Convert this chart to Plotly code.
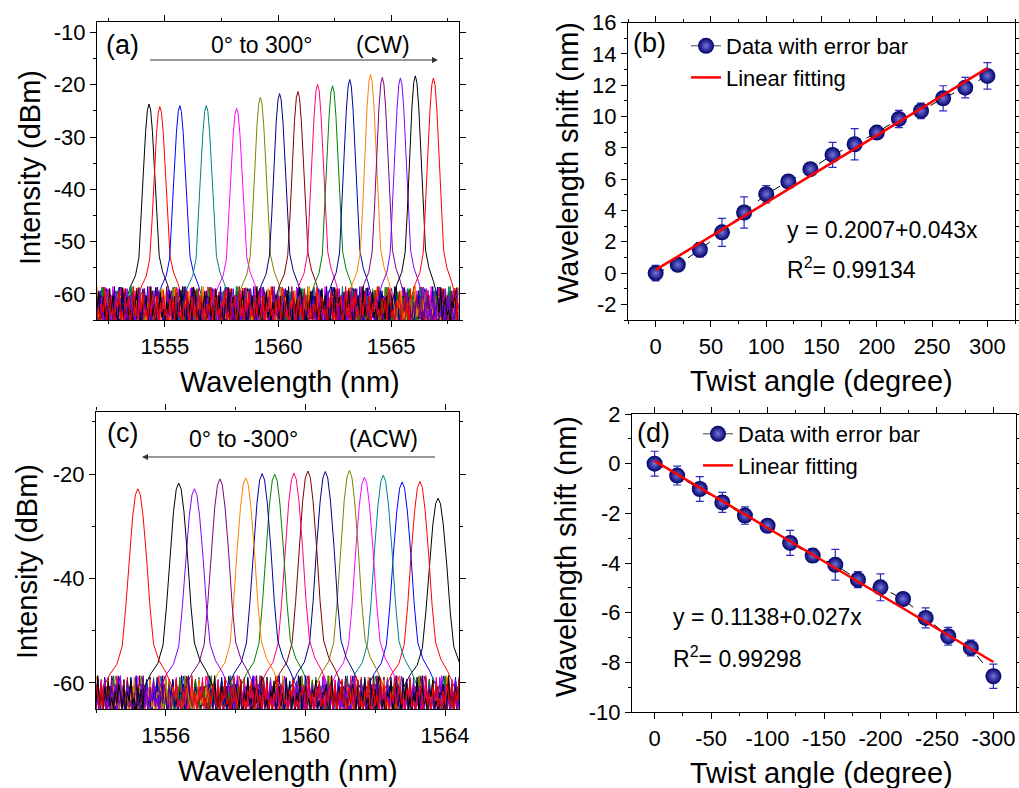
import numpy as np
import plotly.graph_objects as go

FONT = "Liberation Sans, Arial, sans-serif"

# ---------------- data ----------------
# (a) clockwise twist spectra: peak wavelength (nm) and peak power (dBm), 0..300 deg
cw_angles = [0, 20, 40, 60, 80, 100, 120, 140, 160, 180, 200, 220, 240, 260, 280, 300]
cw_peak_wl = [1554.30, 1554.78, 1555.66, 1556.83, 1558.17, 1559.22, 1560.07, 1560.88,
              1561.75, 1562.41, 1563.17, 1564.09, 1564.61, 1565.41, 1566.07, 1566.87]
cw_peak_dbm = [-23.7, -24.2, -24.0, -24.0, -24.5, -22.4, -21.7, -21.3,
               -19.9, -20.2, -19.0, -18.0, -18.6, -18.7, -18.3, -18.7]

# (c) anticlockwise twist spectra, 0..-300 deg
acw_angles = [0, -20, -40, -60, -80, -100, -120, -140, -160, -180, -200, -220, -240, -260, -280, -300]
acw_peak_wl = [1563.80, 1563.28, 1562.77, 1562.23, 1561.69, 1561.26, 1560.57, 1560.07,
               1559.67, 1559.12, 1558.76, 1558.29, 1557.55, 1556.82, 1556.37, 1555.20]
acw_peak_dbm = [-24.6, -21.4, -21.5, -20.2, -20.6, -19.3, -19.5, -19.4,
                -19.8, -20.0, -19.9, -20.7, -20.9, -22.8, -21.7, -22.8]

curve_colors = ["#000000", "#ff0000", "#0000ff", "#008080", "#ff00ff", "#808000",
                "#000080", "#800000", "#ff0080", "#008000", "#0000a0", "#ff8000",
                "#800080", "#8000ff", "#000000", "#ff0000"]

# peak line shape: offset from centre (nm) and fraction of height above floor
profile_offset = [-1.0, -0.8, -0.6, -0.45, -0.35, -0.25, -0.15, -0.07, 0.0,
                  0.07, 0.15, 0.25, 0.35, 0.45, 0.6, 0.8, 1.0]
profile_frac = [0.0, 0.07, 0.12, 0.21, 0.40, 0.65, 0.86, 0.97, 1.0,
                0.97, 0.86, 0.65, 0.40, 0.22, 0.14, 0.08, 0.0]
floor_dbm = -61.0
noise_dbm = [-62.1, -64.8, -60.4, -65.9, -61.7, -63.5, -59.3, -64.2, -62.9, -66.1, -60.9,
             -63.8, -61.2, -65.4, -58.7, -60.1, -64.6, -63.1, -66.3, -61.5, -62.8, -59.6,
             -65.1, -63.9, -60.7, -64.4, -62.2, -65.7, -59.0, -63.3, -60.3, -64.9, -62.6,
             -66.0, -61.9, -63.6, -58.9, -65.2, -62.4, -60.6, -64.1, -63.0, -65.8, -61.3,
             -62.7, -59.4, -64.7, -63.4, -66.2, -61.8, -62.3, -60.5, -65.5, -63.7, -58.6,
             -64.3, -62.0, -65.6, -60.8, -63.2, -59.7, -64.5, -62.9, -65.0, -61.6, -63.9, -60.2]

# (b) wavelength shift vs twist angle (CW)
twist_cw = [0, 20, 40, 60, 80, 100, 120, 140, 160, 180, 200, 220, 240, 260, 280, 300]
shift_cw = [0.0, 0.53, 1.49, 2.6, 3.87, 5.04, 5.85, 6.64, 7.55, 8.23, 8.98, 9.85, 10.36, 11.17, 11.85, 12.6]
err_cw = [0.5, 0.25, 0.45, 0.9, 1.0, 0.55, 0.2, 0.3, 0.8, 1.0, 0.25, 0.55, 0.5, 0.8, 0.65, 0.85]
fit_cw = (0.2007, 0.043)

# (d) wavelength shift vs twist angle (ACW)
twist_acw = [0, -20, -40, -60, -80, -100, -120, -140, -160, -180, -200, -220, -240, -260, -280, -300]
shift_acw = [0.0, -0.48, -1.02, -1.56, -2.09, -2.5, -3.19, -3.7, -4.07, -4.67, -4.98, -5.45,
             -6.21, -6.95, -7.42, -8.56]
err_acw = [0.5, 0.38, 0.5, 0.4, 0.35, 0.25, 0.5, 0.28, 0.62, 0.32, 0.54, 0.15, 0.4, 0.36, 0.32, 0.49]
fit_acw = (0.1138, 0.027)

# tick labels (hyphen minus as in the original)
ticks_a_y = [-60, -50, -40, -30, -20, -10]
ticks_c_y = [-60, -40, -20]
ticks_b_y = [-2, 0, 2, 4, 6, 8, 10, 12, 14, 16]
ticks_d_y = [-10, -8, -6, -4, -2, 0, 2]
ticks_d_x = [0, -50, -100, -150, -200, -250, -300]

# ---------------- figure ----------------
W, H = 1019, 788
fig = go.Figure()


def spectrum(center, peak, lo, hi, step, shift):
    grid = np.arange(lo, hi + 1e-9, step)
    n = len(noise_dbm)
    xs, ys = [], []
    for i, g in enumerate(grid):
        if g < center + profile_offset[0]:
            xs.append(g)
            ys.append(noise_dbm[(i + shift) % n])
    for o, f in zip(profile_offset, profile_frac):
        xs.append(center + o)
        ys.append(floor_dbm + f * (peak - floor_dbm))
    for i, g in enumerate(grid):
        if g > center + profile_offset[-1]:
            xs.append(g)
            ys.append(noise_dbm[(i + shift) % n])
    return xs, ys


for k, (c, p) in enumerate(zip(cw_peak_wl, cw_peak_dbm)):
    xs, ys = spectrum(c, p, 1552.0, 1568.0, 0.07, k * 11)
    fig.add_trace(go.Scatter(x=xs, y=ys, mode="lines", line=dict(color=curve_colors[k], width=1),
                             showlegend=False, xaxis="x", yaxis="y", hoverinfo="skip"))

for k, (c, p) in enumerate(zip(acw_peak_wl, acw_peak_dbm)):
    xs, ys = spectrum(c, p, 1554.0, 1564.4, 0.05, k * 13 + 5)
    fig.add_trace(go.Scatter(x=xs, y=ys, mode="lines", line=dict(color=curve_colors[k], width=1),
                             showlegend=False, xaxis="x3", yaxis="y3", hoverinfo="skip"))

BALL = dict(size=16, color="#00006a", gradient=dict(type="radial", color="#7474dc"),
            line=dict(width=0))
ERRC = "#2a2ac0"


def shift_panel(tw, sh, er, fit, xa, ya, legend):
    fig.add_trace(go.Scatter(x=tw, y=sh, mode="lines+markers",
                             line=dict(color="black", width=1, dash="dash"),
                             marker=BALL,
                             error_y=dict(type="data", array=er, visible=True, color=ERRC,
                                          thickness=1.2, width=4),
                             showlegend=False, xaxis=xa, yaxis=ya))
    fx = [tw[0], tw[-1]]
    fy = [fit[0] + fit[1] * v for v in fx]
    # legend entries
    fig.add_trace(go.Scatter(x=[None], y=[None], mode="lines+markers",
                             line=dict(color="#444444", width=1), marker=BALL,
                             name="Data with error bar", legend=legend, xaxis=xa, yaxis=ya))
    fig.add_trace(go.Scatter(x=fx, y=fy, mode="lines", line=dict(color="#ff0000", width=2.5),
                             name="Linear fitting", legend=legend, xaxis=xa, yaxis=ya))


shift_panel(twist_cw, shift_cw, err_cw, fit_cw, "x2", "y2", "legend")
shift_panel(twist_acw, shift_acw, err_acw, fit_acw, "x4", "y4", "legend2")


def px(x):
    return x / W


def py(y):
    return 1 - y / H


axis_common = dict(showline=True, linecolor="black", linewidth=1.3, mirror="allticks",
                   ticks="outside", ticklen=6, tickwidth=1.2, tickcolor="black",
                   showgrid=False, zeroline=False, automargin=False,
                   tickfont=dict(family=FONT, size=22, color="black"),
                   minor=dict(ticks="outside", ticklen=3, tickwidth=1, tickcolor="black",
                              showgrid=False))


def tv(vals):
    return dict(tickmode="array", tickvals=vals, ticktext=[str(v) for v in vals])


fig.update_layout(
    width=W, height=H, margin=dict(l=0, r=0, t=0, b=0, autoexpand=False),
    paper_bgcolor="white", plot_bgcolor="white",
    font=dict(family=FONT, color="black"),
    xaxis=dict(axis_common, domain=[px(97), px(459)], anchor="y", range=[1552, 1568],
               tick0=1555, dtick=5, minor=dict(axis_common["minor"], tick0=1552.5, dtick=2.5)),
    yaxis=dict(axis_common, **tv(ticks_a_y), domain=[py(320), py(22)], anchor="x", range=[-65, -8],
               minor=dict(axis_common["minor"], tickmode="linear", tick0=-65, dtick=5)),
    xaxis2=dict(axis_common, domain=[px(628), px(1015)], anchor="y2", range=[-25, 325],
                tick0=0, dtick=50, minor=dict(axis_common["minor"], tick0=-25, dtick=25)),
    yaxis2=dict(axis_common, **tv(ticks_b_y), domain=[py(320), py(22.7)], anchor="x2", range=[-3, 16],
                minor=dict(axis_common["minor"], tickmode="linear", tick0=-3, dtick=1)),
    xaxis3=dict(axis_common, domain=[px(96), px(459)], anchor="y3", range=[1554, 1564.4],
                tick0=1556, dtick=4, minor=dict(axis_common["minor"], tick0=1554, dtick=2)),
    yaxis3=dict(axis_common, **tv(ticks_c_y), domain=[py(709), py(411.5)], anchor="x3", range=[-65, -8],
                minor=dict(axis_common["minor"], tickmode="linear", tick0=-60, dtick=10)),
    xaxis4=dict(axis_common, **tv(ticks_d_x), domain=[px(632), px(1016)], anchor="y4", range=[20, -320],
                minor=dict(axis_common["minor"], tickmode="linear", tick0=-25, dtick=25)),
    yaxis4=dict(axis_common, **tv(ticks_d_y), domain=[py(712), py(414)], anchor="x4", range=[-10, 2],
                minor=dict(axis_common["minor"], tickmode="linear", tick0=-9, dtick=1)),
    legend=dict(x=px(686), y=py(25), xanchor="left", yanchor="top", bgcolor="rgba(0,0,0,0)",
                font=dict(family=FONT, size=22, color="black"), tracegroupgap=0),
    legend2=dict(x=px(698), y=py(413), xanchor="left", yanchor="top", bgcolor="rgba(0,0,0,0)",
                 font=dict(family=FONT, size=22, color="black"), tracegroupgap=0),
)

ann = []


def text(x, y, s, size=21, anchor="center", angle=0):
    ann.append(dict(x=px(x), y=py(y), xref="paper", yref="paper", text=s, showarrow=False,
                    xanchor=anchor, yanchor="middle", textangle=angle,
                    font=dict(family=FONT, size=size, color="black")))


# axis titles
TS = 29
text(30, 168, "Intensity (dBm)", TS, angle=-90)
text(290, 382, "Wavelength (nm)", TS)
text(27, 562, "Intensity (dBm)", TS, angle=-90)
text(288, 771, "Wavelength (nm)", TS)
text(568, 163, "Wavelength shift (nm)", TS, angle=-90)
text(821, 381, "Twist angle (degree)", TS)
text(566, 557, "Wavelength shift (nm)", TS, angle=-90)
text(821, 773, "Twist angle (degree)", TS)

# panel labels and notes
text(122, 45, "(a)", 27)
text(262, 45, "0° to 300°", 23)
text(383, 45, "(CW)", 23)
text(122, 433, "(c)", 27)
text(243, 439, "0° to -300°", 23)
text(383, 439, "(ACW)", 23)
text(649, 43, "(b)", 27)
text(653, 433, "(d)", 27)
text(785, 230, "y = 0.2007+0.043x", 23, anchor="left")
text(785, 268, "R<sup>2</sup>= 0.99134", 23, anchor="left")
text(671, 617, "y = 0.1138+0.027x", 23, anchor="left")
text(671, 657, "R<sup>2</sup>= 0.99298", 23, anchor="left")

# arrows
ann.append(dict(x=px(438), y=py(60), xref="paper", yref="paper", ax=147 - 438, ay=0,
                showarrow=True, arrowhead=2, arrowsize=1, arrowwidth=1.2, arrowcolor="#333333",
                text=" "))
ann.append(dict(x=px(142), y=py(457), xref="paper", yref="paper", ax=438 - 142, ay=0,
                showarrow=True, arrowhead=2, arrowsize=1, arrowwidth=1.2, arrowcolor="#333333",
                text=" "))

fig.update_layout(annotations=ann)
fig.write_html("out.html")
